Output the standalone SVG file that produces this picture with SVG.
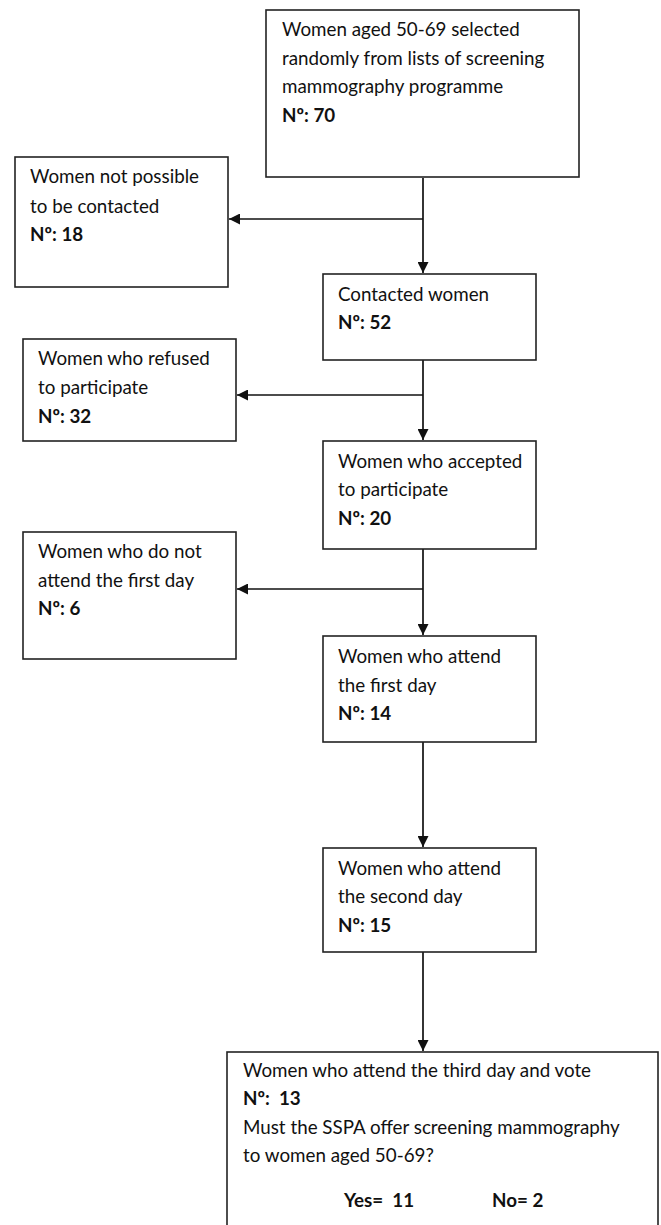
<svg xmlns="http://www.w3.org/2000/svg" width="661" height="1225" viewBox="0 0 661 1225">
<defs>
<marker id="ah" viewBox="0 0 10 10" refX="10" refY="5" markerWidth="11" markerHeight="11" markerUnits="userSpaceOnUse" orient="auto">
<path d="M0,0 L10,5 L0,10 Z" fill="#111"/>
</marker>
<style>
rect.box{fill:#fff;stroke:#222;stroke-width:1.6}
text{font-family:Lato,"Liberation Sans",sans-serif;font-size:18.8px;fill:#111}
.b{font-weight:bold}
.c{stroke:#111;stroke-width:1.7;fill:none}
</style>
</defs>
<rect width="661" height="1225" fill="#fff"/>
<g id="connectors">
<path class="c" d="M423,178 V273" marker-end="url(#ah)"/>
<path class="c" d="M423,219 H229" marker-end="url(#ah)"/>
<path class="c" d="M423,360 V440" marker-end="url(#ah)"/>
<path class="c" d="M423,395 H237" marker-end="url(#ah)"/>
<path class="c" d="M423,549 V635" marker-end="url(#ah)"/>
<path class="c" d="M423,589 H237" marker-end="url(#ah)"/>
<path class="c" d="M423,742 V847" marker-end="url(#ah)"/>
<path class="c" d="M423,952 V1051" marker-end="url(#ah)"/>
</g>
<g id="n1">
<rect class="box" x="266" y="10" width="313" height="167"/>
<text x="282" y="36">Women aged 50-69 selected</text>
<text x="282" y="65">randomly from lists of screening</text>
<text x="282" y="93">mammography programme</text>
<text x="282" y="122" class="b">Nº: 70</text>
</g>
<g id="n2">
<rect class="box" x="15" y="157" width="213" height="130"/>
<text x="30" y="183">Women not possible</text>
<text x="30" y="213">to be contacted</text>
<text x="30" y="241" class="b">Nº: 18</text>
</g>
<g id="n3">
<rect class="box" x="323" y="274" width="213" height="86"/>
<text x="338" y="301">Contacted women</text>
<text x="338" y="329" class="b">Nº: 52</text>
</g>
<g id="n4">
<rect class="box" x="23" y="339" width="213" height="102"/>
<text x="38" y="365">Women who refused</text>
<text x="38" y="394">to participate</text>
<text x="38" y="423" class="b">Nº: 32</text>
</g>
<g id="n5">
<rect class="box" x="323" y="441" width="213" height="108"/>
<text x="338" y="468">Women who accepted</text>
<text x="338" y="496">to participate</text>
<text x="338" y="525" class="b">Nº: 20</text>
</g>
<g id="n6">
<rect class="box" x="23" y="532" width="213" height="127"/>
<text x="38" y="558">Women who do not</text>
<text x="38" y="587">attend the first day</text>
<text x="38" y="615" class="b">Nº: 6</text>
</g>
<g id="n7">
<rect class="box" x="323" y="636" width="213" height="106"/>
<text x="338" y="663">Women who attend</text>
<text x="338" y="692">the first day</text>
<text x="338" y="720" class="b">Nº: 14</text>
</g>
<g id="n8">
<rect class="box" x="323" y="848" width="213" height="104"/>
<text x="338" y="875">Women who attend</text>
<text x="338" y="903">the second day</text>
<text x="338" y="932" class="b">Nº: 15</text>
</g>
<g id="n9">
<rect class="box" x="227" y="1052" width="431" height="190"/>
<text x="243" y="1077">Women who attend the third day and vote</text>
<text x="243" y="1105" class="b" xml:space="preserve">Nº:  13</text>
<text x="243" y="1134">Must the SSPA offer screening mammography</text>
<text x="243" y="1162">to women aged 50-69?</text>
<text x="344" y="1207" class="b" xml:space="preserve">Yes=  11</text>
<text x="492" y="1207" class="b">No= 2</text>
</g>
</svg>
